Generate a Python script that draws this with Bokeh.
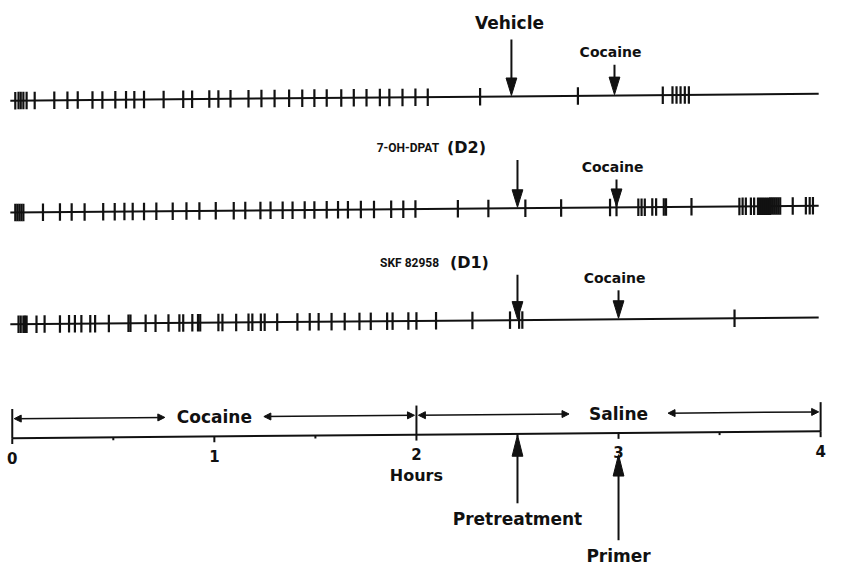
from bokeh.plotting import figure
from bokeh.models import Range1d, Arrow, NormalHead
from bokeh.core.properties import value
from bokeh.embed import file_html
from bokeh.resources import INLINE

# ---------------- data (hours) ----------------
hour_ticks = [0, 0.5, 1, 1.5, 2, 2.5, 3, 3.5, 4]
hour_label_pos = [0, 1, 2, 3, 4]
hour_labels = ["0", "1", "2", "3", "4"]
phase_bounds = [0, 2, 4]
phase_names = ["Cocaine", "Saline"]

vehicle_events = [0.015, 0.031, 0.042, 0.055, 0.071, 0.111, 0.208, 0.273, 0.324, 0.397,
                  0.446, 0.510, 0.563, 0.604, 0.652, 0.749, 0.846, 0.890, 0.975, 1.020,
                  1.080, 1.169, 1.233, 1.298, 1.370, 1.435, 1.495, 1.556, 1.628, 1.690,
                  1.753, 1.819, 1.866, 1.931, 1.995, 2.056, 2.315, 2.799, 3.219, 3.267,
                  3.287, 3.307, 3.328, 3.348]
d2_events = [0.015, 0.025, 0.035, 0.045, 0.055, 0.152, 0.236, 0.294, 0.358, 0.450,
             0.507, 0.555, 0.596, 0.652, 0.713, 0.794, 0.862, 0.926, 1.007, 1.096,
             1.153, 1.228, 1.278, 1.338, 1.387, 1.447, 1.495, 1.556, 1.612, 1.661,
             1.725, 1.790, 1.875, 1.935, 1.995, 2.205, 2.356, 2.539, 2.716, 2.958,
             2.990, 3.098, 3.114, 3.130, 3.167, 3.186, 3.224, 3.235, 3.361, 3.598,
             3.614, 3.630, 3.655, 3.671, 3.690, 3.700, 3.710, 3.720, 3.730, 3.740,
             3.750, 3.760, 3.770, 3.780, 3.790, 3.800, 3.862, 3.927, 3.946, 3.962]
d1_events = [0.031, 0.042, 0.055, 0.063, 0.071, 0.120, 0.160, 0.236, 0.281, 0.310,
             0.342, 0.386, 0.410, 0.478, 0.575, 0.585, 0.660, 0.709, 0.773, 0.827,
             0.846, 0.891, 0.919, 0.930, 1.020, 1.040, 1.108, 1.169, 1.188, 1.230,
             1.249, 1.311, 1.411, 1.472, 1.516, 1.580, 1.645, 1.718, 1.774, 1.855,
             1.882, 1.960, 2.000, 2.097, 2.277, 2.463, 2.508, 2.524, 3.574]
row_events = [vehicle_events, d2_events, d1_events]
row_names = ["Vehicle", "7-OH-DPAT", "SKF 82958"]
row_receptors = ["", "(D2)", "(D1)"]
pretreat_times = [2.47, 2.50, 2.50]
primer_times = [2.98, 2.99, 3.00]
primer_name = "Cocaine"
pretreat_axis_time = 2.5
primer_axis_time = 3.0

# ---------------- layout ----------------
X0, PXH = 12.0, 206.25          # reference px of hour 0, reference px per hour
W, H = 826, 566
p = figure(width=W, height=H, output_backend="svg", toolbar_location=None,
           x_range=Range1d(-X0 / PXH, (843 - X0) / PXH),
           y_range=Range1d(582, 0), min_border=0,
           x_axis_location=None, y_axis_location=None)
p.outline_line_color = None
p.grid.visible = False
p.background_fill_color = "white"

INK = "#111111"
FONT = "DejaVu Sans"
NARROW = "Roboto"


def px(dx):
    return dx / PXH


def tilt(h, y):
    return y - 1.75 * h


def label(x, y, txt, size, align="center", bold=True, font=FONT):
    p.text(x=[x], y=[y], text=[txt], text_font=value(font),
           text_font_style="bold" if bold else "normal", text_font_size=size,
           text_align=align, text_baseline="middle", text_color=INK)


row_y = [103, 218, 333]
tick_half = 9

for i, ev in enumerate(row_events):
    y = row_y[i]
    p.segment(x0=[px(-2)], y0=[tilt(0, y)], x1=[4.0 + px(-2)], y1=[tilt(4, y)],
              line_color=INK, line_width=2)
    p.segment(x0=ev, x1=ev,
              y0=[tilt(t, y) - tick_half for t in ev],
              y1=[tilt(t, y) + tick_half for t in ev],
              line_color=INK, line_width=2.2)


def down_arrow(x, y_top, y_tip, head_len=18, head_w=11):
    p.segment(x0=[x], y0=[y_top], x1=[x], y1=[y_tip - head_len + 2],
              line_color=INK, line_width=2)
    p.patch(x=[x - px(head_w / 2), x + px(head_w / 2), x],
            y=[y_tip - head_len, y_tip - head_len, y_tip],
            fill_color=INK, line_color=INK, line_width=1)


def up_arrow(x, y_tip, y_bot, head_len=22, head_w=11):
    p.segment(x0=[x], y0=[y_bot], x1=[x], y1=[y_tip + head_len - 2],
              line_color=INK, line_width=2)
    p.patch(x=[x - px(head_w / 2), x + px(head_w / 2), x],
            y=[y_tip + head_len, y_tip + head_len, y_tip],
            fill_color=INK, line_color=INK, line_width=1)


# pretreatment / primer arrows + labels
pre_top = [40, 164, 282]
prim_top = [66, 184, 298]
for i in range(3):
    y = row_y[i]
    t = pretreat_times[i]
    down_arrow(t, pre_top[i], tilt(t, y) - 1)
    t2 = primer_times[i]
    down_arrow(t2, prim_top[i], tilt(t2, y) - 1)
    label(t2 - px(4), prim_top[i] - 13, primer_name, "14px")

label(pretreat_times[0] - px(2), 23, row_names[0], "17px")
name_right = [0, 80, 80]
rec_left = [0, 72, 69]
for i in (1, 2):
    ly = pre_top[i] - 13
    label(pretreat_times[i] - px(name_right[i]), ly + 1, row_names[i], "12px",
          align="right", font=NARROW)
    label(pretreat_times[i] - px(rec_left[i]), ly, row_receptors[i], "16px", align="left")

# ---------------- time axis ----------------
AX_Y = 450
p.segment(x0=[0], y0=[tilt(0, AX_Y)], x1=[4], y1=[tilt(4, AX_Y)],
          line_color=INK, line_width=2)
p.segment(x0=hour_ticks, x1=hour_ticks,
          y0=[tilt(t, AX_Y) for t in hour_ticks],
          y1=[tilt(t, AX_Y) + (6 if float(t).is_integer() else 3) for t in hour_ticks],
          line_color=INK, line_width=2)
p.segment(x0=phase_bounds, x1=phase_bounds,
          y0=[tilt(t, AX_Y) for t in phase_bounds],
          y1=[tilt(t, AX_Y) - 30 for t in phase_bounds],
          line_color=INK, line_width=2)
p.text(x=hour_label_pos, y=[470 - 1.75 * t for t in hour_label_pos], text=hour_labels,
       text_font=value(FONT), text_font_style="bold", text_font_size="15px",
       text_align="center", text_baseline="middle", text_color=INK)
label(2, 488, "Hours", "16px")

# phase double arrows
gap = 0.235
for k, name in enumerate(phase_names):
    a, b = phase_bounds[k], phase_bounds[k + 1]
    mid = (a + b) / 2
    yy = tilt(mid, AX_Y - 20)
    for (s, e) in [(a + px(2), mid - gap - 0.01), (mid + gap + 0.01, b - px(2))]:
        p.add_layout(Arrow(x_start=s, y_start=tilt(s, AX_Y - 20),
                           x_end=e, y_end=tilt(e, AX_Y - 20),
                           line_color=INK, line_width=1.5,
                           start=NormalHead(size=7, fill_color=INK, line_color=INK),
                           end=NormalHead(size=7, fill_color=INK, line_color=INK)))
    label(mid, yy, name, "17px")

# bottom arrows
up_arrow(pretreat_axis_time, tilt(pretreat_axis_time, AX_Y) + 1, 517)
label(pretreat_axis_time, 533, "Pretreatment", "17px")
up_arrow(primer_axis_time, 467, 555)
label(primer_axis_time, 571, "Primer", "17px")

open("out.html", "w").write(file_html(p, INLINE))
